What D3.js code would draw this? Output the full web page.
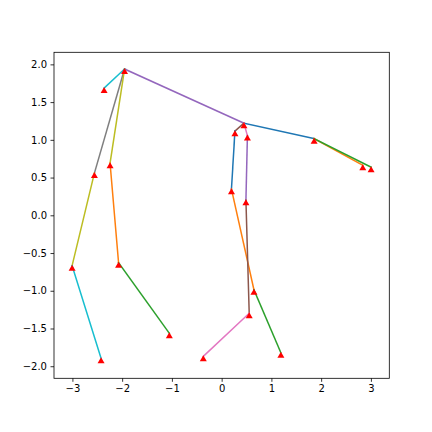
<!DOCTYPE html>
<html>
<head>
<meta charset="utf-8">
<script src="https://cdn.jsdelivr.net/npm/d3@7"></script>
<style>
  body { margin: 0; background: #fff; }
  text { font-family: "DejaVu Sans", sans-serif; font-size: 10px; fill: #000; }
</style>
</head>
<body>
<div id="chart"></div>
<script>

// joint positions (data units)
var pointsX = [-1.952, -2.363, -2.558, -2.243, -3.006, -2.424, -2.072, -1.052, 0.448, 0.267,
               0.518, 1.859, 2.837, 3.004, 0.197, 0.488, 0.649, 0.554, 1.191, -0.369];
var pointsY = [1.938, 1.686, 0.559, 0.690, -0.668, -1.895, -0.629, -1.564, 1.221, 1.115,
               1.056, 1.016, 0.664, 0.638, 0.346, 0.200, -0.987, -1.298, -1.822, -1.869];

// bones as index pairs, and their colours
var edges = [[8, 11], [11, 12], [11, 13], [0, 8], [8, 9], [8, 10], [0, 2], [0, 3], [0, 1],
             [9, 14], [14, 16], [16, 18], [10, 15], [15, 17], [17, 19], [2, 4], [4, 5], [3, 6], [6, 7]];
var edgeColors = ['#1f77b4', '#ff7f0e', '#2ca02c', '#9467bd', '#8c564b', '#e377c2', '#7f7f7f', '#bcbd22', '#17becf',
                  '#1f77b4', '#ff7f0e', '#2ca02c', '#9467bd', '#8c564b', '#e377c2', '#bcbd22', '#17becf', '#ff7f0e', '#2ca02c'];

var xTicks = [-3, -2, -1, 0, 1, 2, 3];
var yTicks = [-2.0, -1.5, -1.0, -0.5, 0.0, 0.5, 1.0, 1.5, 2.0];

var margin = {top: 52.3, right: 42.7, bottom: 53.7, left: 54};
var W = 432, H = 432;
var width = W - margin.left - margin.right,
    height = H - margin.top - margin.bottom;

var svg = d3.select("#chart").append("svg")
    .attr("width", W).attr("height", H)
  .append("g")
    .attr("transform", "translate(" + margin.left + "," + margin.top + ")");

var x = d3.scaleLinear().domain([-3.37, 3.37]).range([0, width]);
var y = d3.scaleLinear().domain([-2.16, 2.16]).range([height, 0]);

var fmtMinus = function(s) { return s.replace("-", "\u2212"); };

// bones
svg.append('g').attr('class', 'links').selectAll('line')
    .data(edges)
    .enter().append('line')
    .attr('x1', function(d) { return x(pointsX[d[0]]); })
    .attr('y1', function(d) { return y(pointsY[d[0]]); })
    .attr('x2', function(d) { return x(pointsX[d[1]]); })
    .attr('y2', function(d) { return y(pointsY[d[1]]); })
    .attr('stroke', function(d, i) { return edgeColors[i]; })
    .attr('stroke-width', 1.5)
    .attr('stroke-linecap', 'square');

// joints, red triangles
svg.append('g').attr('class', 'nodes').selectAll('path')
    .data(pointsX)
    .enter().append('path')
    .attr('d', 'M0,-1L3.5,5L-3.5,5Z')
    .attr('transform', function(d, i) { return 'translate(' + x(d) + ',' + y(pointsY[i]) + ')'; })
    .attr('fill', 'red');

// axes
var xAxis = svg.append('g')
    .attr('transform', 'translate(0,' + height + ')')
    .call(d3.axisBottom(x).tickValues(xTicks).tickSize(3.5).tickPadding(3.5)
      .tickFormat(function(d) { return fmtMinus(d3.format("d")(d)); }));
var yAxis = svg.append('g')
    .call(d3.axisLeft(y).tickValues(yTicks).tickSize(3.5).tickPadding(3.5)
      .tickFormat(function(d) { return fmtMinus(d3.format(".1f")(d)); }));

[xAxis, yAxis].forEach(function(a) {
  a.select('.domain').remove();
  a.selectAll('.tick line').attr('stroke', '#000').attr('stroke-width', 0.8);
  a.selectAll('.tick text').attr('font-size', 10).attr('font-family', '"DejaVu Sans", sans-serif').attr('fill', '#000');
});

// frame
svg.append('rect')
    .attr('width', width).attr('height', height)
    .attr('fill', 'none').attr('stroke', '#000').attr('stroke-width', 0.8);

</script>
</body>
</html>
